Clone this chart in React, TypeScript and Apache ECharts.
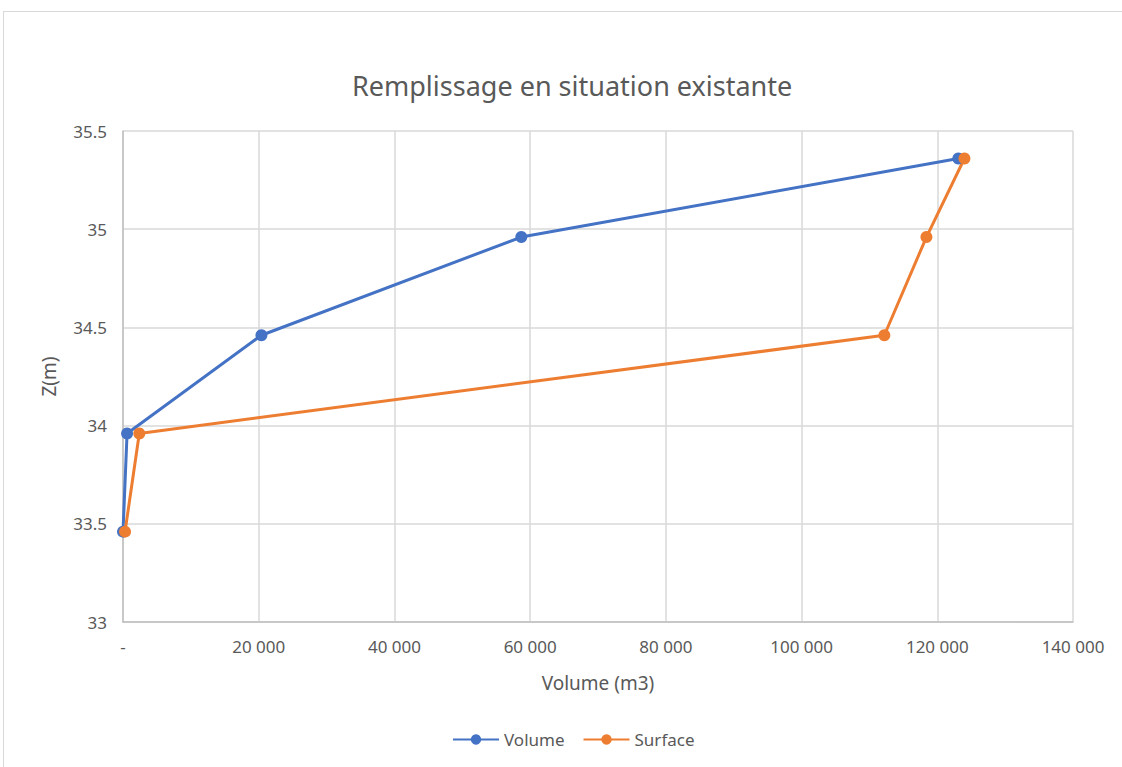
import React, { useEffect, useRef } from "react";
import * as echarts from "echarts";

const levels = [33.46, 33.96, 34.46, 34.96, 35.36];
const volumeValues = [0, 600, 20400, 58700, 123100];
const surfaceValues = [300, 2400, 112200, 118400, 124000];
const seriesNames = ["Volume", "Surface"];
const colors = ["#4472C4", "#ED7D31"];

const fmtX = (v: number) =>
  v === 0 ? "-" : String(v).replace(/\B(?=(\d{3})+(?!\d))/g, " ");

export default function App() {
  const ref = useRef<HTMLDivElement>(null);
  useEffect(() => {
    const chart = echarts.init(ref.current!, null, { renderer: "svg" });
    const font = "Noto Sans";
    chart.setOption({
      animation: false,
      backgroundColor: "#ffffff",
      textStyle: { fontFamily: font },
      title: {
        text: "Remplissage en situation existante",
        left: 347,
        top: 67,
        textStyle: { fontFamily: font, fontSize: 27, fontWeight: "normal", color: "#595959" },
      },
      legend: {
        bottom: 14,
        left: 447,
        itemWidth: 46,
        itemHeight: 13,
        itemGap: 18,
        textStyle: { fontFamily: font, fontSize: 17, color: "#595959" },
        data: seriesNames,
      },
      grid: { left: 123, right: 49, top: 131, bottom: 145 },
      xAxis: {
        type: "value",
        min: 0,
        max: 140000,
        interval: 20000,
        name: "Volume (m3)",
        nameLocation: "middle",
        nameGap: 51,
        nameTextStyle: { fontFamily: font, fontSize: 19, color: "#595959" },
        axisLine: { show: true, lineStyle: { color: "#bfbfbf", width: 1.5 } },
        axisTick: { show: false },
        splitLine: { show: true, lineStyle: { color: "#d9d9d9", width: 1.5 } },
        axisLabel: { formatter: fmtX, fontFamily: font, fontSize: 17, color: "#595959", margin: 16 },
      },
      yAxis: {
        type: "value",
        min: 33,
        max: 35.5,
        interval: 0.5,
        name: "Z(m)",
        nameLocation: "middle",
        nameGap: 65,
        nameRotate: 90,
        nameTextStyle: { fontFamily: font, fontSize: 19, color: "#595959" },
        axisLine: { show: true, lineStyle: { color: "#bfbfbf", width: 1.5 } },
        axisTick: { show: false },
        splitLine: { show: true, lineStyle: { color: "#d9d9d9", width: 1.5 } },
        axisLabel: { fontFamily: font, fontSize: 17, color: "#595959", margin: 16 },
      },
      series: [
        {
          name: seriesNames[0],
          type: "line",
          data: volumeValues.map((v, i) => [v, levels[i]]),
          color: colors[0],
          symbol: "circle",
          symbolSize: 12,
          lineStyle: { width: 3, color: colors[0] },
          itemStyle: { color: colors[0] },
        },
        {
          name: seriesNames[1],
          type: "line",
          data: surfaceValues.map((v, i) => [v, levels[i]]),
          color: colors[1],
          symbol: "circle",
          symbolSize: 12,
          lineStyle: { width: 3, color: colors[1] },
          itemStyle: { color: colors[1] },
        },
      ],
    });
    return () => chart.dispose();
  }, []);
  return (
    <div style={{ position: "absolute", left: 0, top: 0, width: 1122, height: 767, background: "#fff" }}>
      <div
        ref={ref}
        style={{ position: "absolute", left: 0, top: 0, width: 1122, height: 767 }}
      />
      <div
        style={{
          position: "absolute",
          left: 3,
          top: 11,
          width: 1130,
          height: 770,
          borderLeft: "1px solid #d9d9d9",
          borderTop: "1px solid #d9d9d9",
          pointerEvents: "none",
        }}
      />
    </div>
  );
}
